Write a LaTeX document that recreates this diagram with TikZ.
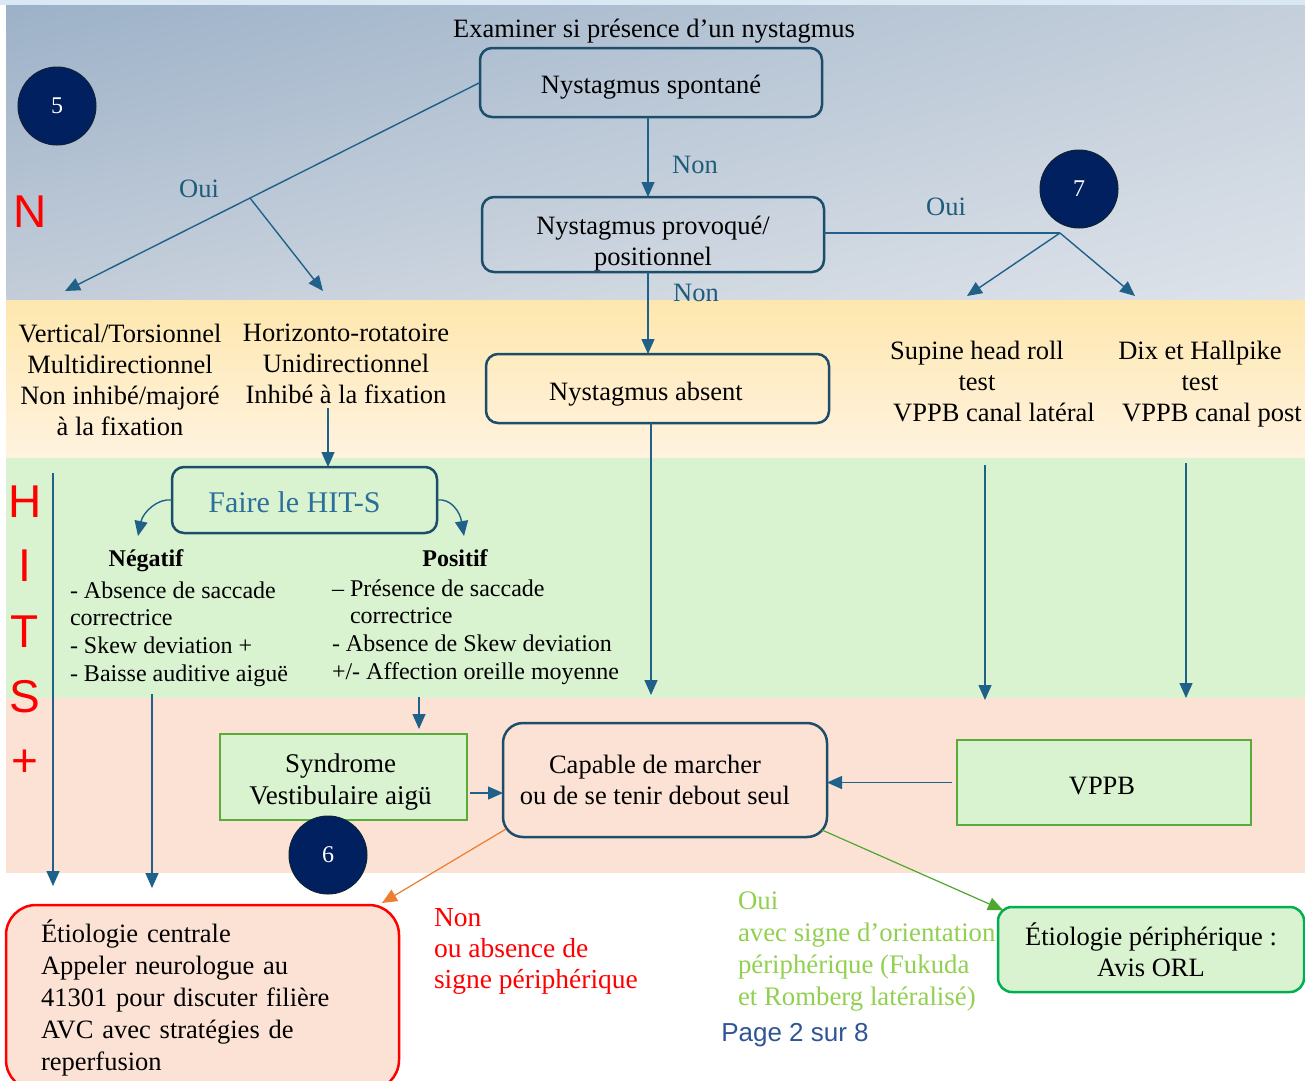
\documentclass[tikz,border=0pt]{standalone}
\usepackage{fontspec}
\setmainfont{Liberation Serif}
\setsansfont{Liberation Sans}
\usetikzlibrary{arrows.meta,calc,shadings}
\definecolor{boxblue}{HTML}{1C4E6B}
\definecolor{arrblue}{HTML}{1F6189}
\definecolor{lblblue}{HTML}{1F5C7A}
\definecolor{hitblue}{HTML}{2B6F9A}
\definecolor{navy}{HTML}{002060}
\definecolor{navyedge}{HTML}{0E2233}
\definecolor{gboxc}{HTML}{5AAB3A}
\definecolor{eperi}{HTML}{00B050}
\definecolor{bandgreen}{HTML}{D9F2D0}
\definecolor{peach}{HTML}{FBE2D5}
\definecolor{ouigreen}{HTML}{92D050}
\definecolor{pageblue}{HTML}{2F5597}
\definecolor{orangeln}{HTML}{ED7D31}
\definecolor{greenln}{HTML}{4EA72E}
\definecolor{topstrip}{HTML}{DAE8F4}
\definecolor{topUL}{HTML}{9CB1C8}
\definecolor{topUR}{HTML}{C4CFDB}
\definecolor{topLL}{HTML}{C3CDD9}
\definecolor{topLR}{HTML}{DEE3EA}
\definecolor{yellowA}{HTML}{FEE7AE}
\definecolor{yellowB}{HTML}{FFF3E0}
\begin{document}
\begin{tikzpicture}[x=1pt,y=-1pt,
  every node/.style={font=\fontsize{26.5}{31}\selectfont, inner sep=0pt, outer sep=0pt},
  rbox/.style={draw=boxblue, line width=2.5pt, rounded corners=12pt, align=center},
  gbox/.style={draw=gboxc, line width=2.5pt, fill=bandgreen, align=center},
  flow/.style={draw=arrblue, line width=1.4pt, -{Triangle[length=15pt,width=13pt]}},
  plainln/.style={draw=arrblue, line width=1.4pt},
  oflow/.style={draw=orangeln, line width=1.2pt, -{Triangle[length=15pt,width=13pt]}},
  gflow/.style={draw=greenln, line width=1.2pt, -{Triangle[length=15pt,width=13pt]}},
  lbl/.style={text=lblblue},
  numc/.style={circle, fill=navy, draw=navyedge, line width=1pt, minimum size=78pt, text=white, font=\fontsize{24}{28}\selectfont},
  big/.style={text=red, font=\fontsize{46}{50}\selectfont\sffamily},
  listtxt/.style={font=\fontsize{24}{27.7}\selectfont, align=left, anchor=west}]

% background
\useasboundingbox (0,0) rectangle (1305,1080);
\begin{scope}
\clip (0,0) rectangle (1305,1080);
\fill[white] (0,0) rectangle (1305,1080);
\fill[topstrip] (0,0) rectangle (1305,5);
\shade[upper left=topUL, upper right=topUR, lower left=topLL, lower right=topLR] (6,5) rectangle (1305,300);
\shade[top color=yellowA, bottom color=yellowB] (6,300) rectangle (1305,458);
\fill[bandgreen] (6,458) rectangle (1305,698);
\fill[peach] (6,698) rectangle (1305,873);

% side letters
\node[big] (bigN) at (30,212) {N};
\node[big] (bigH) at (25,502) {H};
\node[big] (bigI) at (25,566) {I};
\node[big] (bigT) at (25,632) {T};
\node[big] (bigS) at (25,697) {S};
\node[big] (bigP) at (25,763) {+};

% top part
\node (exam) at (654,31) {Examiner si présence d’un nystagmus};
\node[rbox, minimum width=342pt, minimum height=69pt] (spont) at (651,82.5) {\rule{0pt}{28pt}Nystagmus spontané};
\node[rbox, minimum width=342pt, minimum height=75pt] (prov) at (653,234.5) {\rule{0pt}{37pt}Nystagmus provoqué/\\positionnel};
\node[numc] (c5) at (57,106) {5};
\node[numc] (c7) at (1079,189) {7};

\node[lbl] (oui1) at (199,189) {Oui};
\node[lbl] (non1) at (695,165) {Non};
\node[lbl] (oui2) at (946,207) {Oui};
\node[lbl] (non2) at (696,293) {Non};

% yellow band
\node[align=center] (vert) at (120,380) {Vertical/Torsionnel\\Multidirectionnel\\Non inhibé/majoré\\à la fixation};
\node[align=center] (horiz) at (346,364) {Horizonto-rotatoire\\Unidirectionnel\\Inhibé à la fixation};
\node[rbox, minimum width=343pt, minimum height=69pt] (absent) at (657.5,388.5) {\rule{0pt}{30pt}Nystagmus absent\hspace*{23pt}};
\node[align=center] (sup) at (977,381) {Supine head roll\\test\\\hspace*{34pt}VPPB canal latéral};
\node[align=center] (dix) at (1200,384) {Dix et Hallpike\\test\\\hspace*{24pt}VPPB canal post};

% green band
\node[rbox, minimum width=265pt, minimum height=66pt, text=hitblue, font=\fontsize{30}{34}\selectfont] (hit) at (304.5,500) {\rule{0pt}{25pt}Faire le HIT-S\hspace*{20pt}};
\node[font=\fontsize{24}{28}\selectfont\bfseries] (neg) at (146,561) {Négatif};
\node[listtxt] (negl) at (70,634) {- Absence de saccade\\correctrice\\- Skew deviation +\\- Baisse auditive aiguë};
\node[font=\fontsize{24}{28}\selectfont\bfseries] (pos) at (455,558) {Positif};
\node[listtxt] (posl) at (332,632) {– Présence de saccade\\\hspace*{18pt}correctrice\\- Absence de Skew deviation\\+/- Affection oreille moyenne};

% peach band
\node[gbox, minimum width=247pt, minimum height=86pt, font=\fontsize{27}{32}\selectfont] (synd) at (343.5,777) {\rule{0pt}{28pt}Syndrome\hspace*{6pt}\\Vestibulaire aigü\hspace*{6pt}};
\node[rbox, fill=peach, rounded corners=20pt, minimum width=324pt, minimum height=114pt] (cap) at (665,780) {Capable de marcher\hspace*{20pt}\\ou de se tenir debout seul\hspace*{20pt}};
\node[gbox, minimum width=294pt, minimum height=85pt] (vppb) at (1104,782.5) {\rule{0pt}{24pt}VPPB\hspace*{4pt}};
\node[numc] (c6) at (328,855) {6};

% bottom
\node[draw=red, line width=2.5pt, fill=peach, rounded corners=30pt, text width=323pt, inner xsep=35pt, minimum height=185pt, align=left, font=\fontsize{26.5}{32}\selectfont] (ecent) at (202.5,997.5) {Étiologie centrale\\Appeler neurologue au\\41301 pour discuter filière\\AVC avec stratégies de\\reperfusion};
\node[draw=eperi, line width=2.5pt, fill=bandgreen, rounded corners=14pt, minimum width=306pt, minimum height=85pt, align=center] (eper) at (1151,949.5) {Étiologie périphérique :\\Avis ORL};
\node[text=red, align=left, anchor=west, font=\fontsize{27.5}{31}\selectfont] (nonr) at (434,951) {Non\\ou absence de\\signe périphérique};
\node[text=ouigreen, align=left, anchor=west, font=\fontsize{26.8}{32}\selectfont] (ouig) at (738,951) {Oui\\avec signe d’orientation\\périphérique (Fukuda\\et Romberg latéralisé)};
\node[text=pageblue, font=\fontsize{26}{30}\selectfont\sffamily] (page) at (795,1035) {Page 2 sur 8};

% connectors
\coordinate (vtip) at (65,291);
\coordinate (b5) at (250,198);
\coordinate (htip) at (323,291);
\draw[flow] (spont.west) -- (vtip);
\draw[flow] (b5) -- (htip);
\draw[flow] ([xshift=-3pt]spont.south) -- ([xshift=-5pt]prov.north);
\draw[flow] ([xshift=-5pt]prov.south) -- ([xshift=-9.5pt]absent.north);
\coordinate (b7) at (1060,233);
\coordinate (stip) at (967,296);
\coordinate (dtip) at (1135,296);
\draw[plainln] (prov.east |- b7) -- (b7);
\draw[flow] (b7) -- (stip);
\draw[flow] (b7) -- (dtip);

\coordinate (hs) at (328,408);
\draw[flow] (hs) -- (hs |- hit.north);
\coordinate (ntip) at (138,536);
\coordinate (ptip) at (464,536);
\draw[flow] (hit.west) .. controls (158,498) and (143,512) .. (ntip);
\draw[flow] (hit.east) .. controls (451,498) and (460,512) .. (ptip);

\coordinate (l1s) at (53,473);
\coordinate (l1e) at (53,886);
\draw[flow] (l1s) -- (l1e);
\coordinate (l2s) at (152,694);
\coordinate (l2e) at (152,888);
\draw[flow] (l2s) -- (l2e);
\coordinate (l3s) at (419,697);
\coordinate (l3e) at (419,729);
\draw[flow] (l3s) -- (l3e);
\coordinate (l4e) at (651,695);
\draw[flow] (absent.south -| l4e) -- (l4e);
\coordinate (l5s) at (985,465);
\coordinate (l5e) at (985,700);
\draw[flow] (l5s) -- (l5e);
\coordinate (l6s) at (1186,463);
\coordinate (l6e) at (1186,698);
\draw[flow] (l6s) -- (l6e);

\coordinate (sa) at ($(synd.east)+(3,16)$);
\coordinate (sb) at (sa -| cap.west);
\draw[flow] (sa) -- (sb);
\coordinate (va) at ([xshift=-5pt]vppb.west);
\coordinate (vb) at (va -| cap.east);
\draw[flow] (va) -- (vb);

\coordinate (os) at (506,829);
\coordinate (otip) at (382,903);
\draw[oflow] (os) -- (otip);
\coordinate (gs) at (822,830);
\coordinate (gtip) at (1003,910);
\draw[gflow] (gs) -- (gtip);
\end{scope}
\end{tikzpicture}
\end{document}
